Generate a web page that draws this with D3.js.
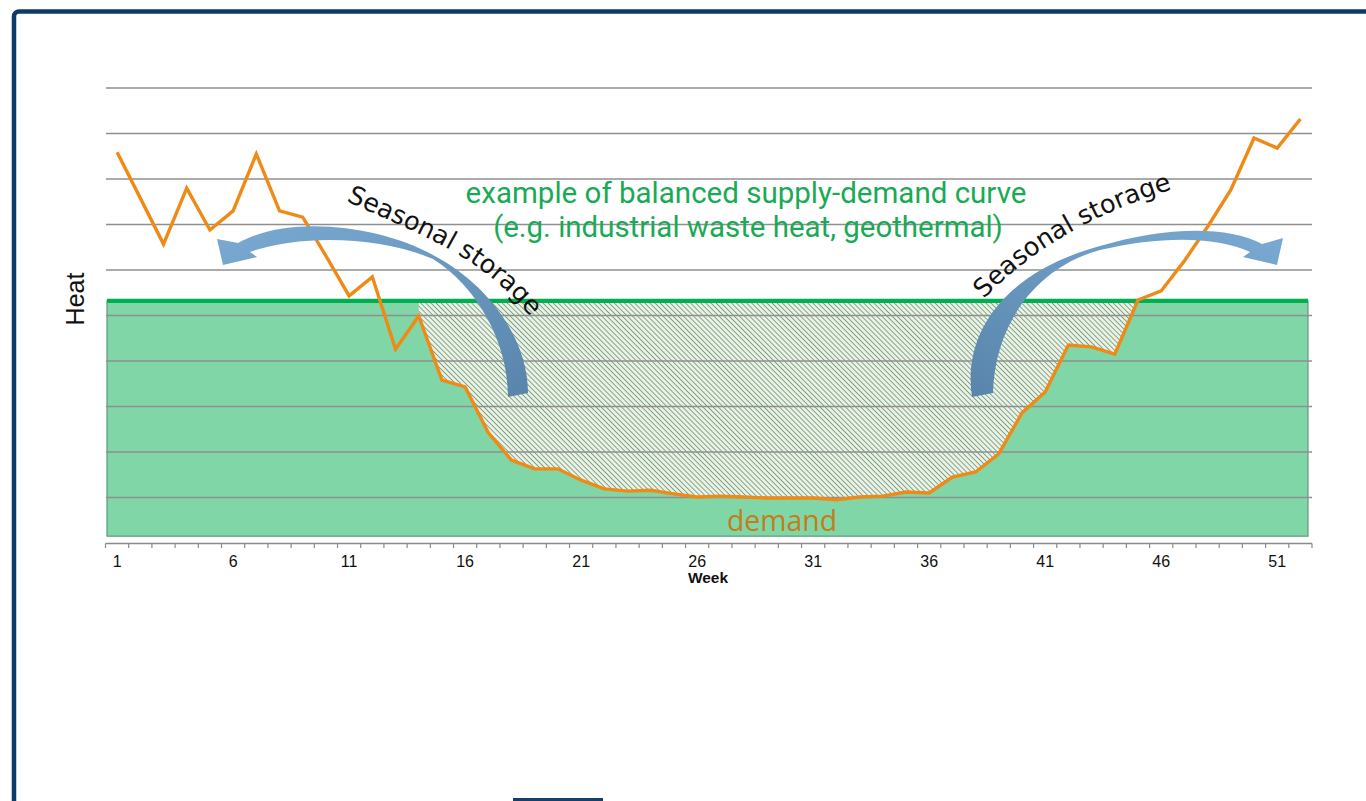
<!DOCTYPE html>
<html>
<head>
<meta charset="utf-8">
<script src="https://cdn.jsdelivr.net/npm/d3@7/dist/d3.min.js"></script>
<style>
  html, body { margin: 0; padding: 0; background: #ffffff; }
  svg { display: block; }
</style>
</head>
<body>
<svg id="chart" width="1366" height="801"></svg>
<script>
// ---------------- DATA ----------------
const weeks = [1,2,3,4,5,6,7,8,9,10,11,12,13,14,15,16,17,18,19,20,21,22,23,24,25,26,
               27,28,29,30,31,32,33,34,35,36,37,38,39,40,41,42,43,44,45,46,47,48,49,50,51,52];
const demand = [8.59,7.58,6.57,7.80,6.88,7.30,8.55,7.30,7.16,6.31,5.43,5.85,4.26,4.99,3.58,3.43,
                2.42,1.82,1.63,1.63,1.38,1.19,1.14,1.16,1.08,1.01,1.03,1.01,0.99,0.99,0.99,0.95,
                1.01,1.03,1.12,1.10,1.45,1.56,1.96,2.86,3.32,4.35,4.31,4.15,5.34,5.54,6.20,6.95,
                7.76,8.90,8.68,9.32];
const supplyLevel = 5.32;        // balanced supply level
const supplyBase = 0.15;         // bottom of supply block
const gridValues = [1,2,3,4,5,6,7,8,9,10];
const tickLabels = [1,6,11,16,21,26,31,36,41,46,51];
const storageWeeks = [14,45];    // hatched storage deficit span
const yDomain = [0,10];

// ---------------- SETUP ----------------
const svg = d3.select("#chart");
const x = d3.scaleBand().domain(weeks).range([105.5, 1312]).paddingInner(0).paddingOuter(0);
const bw = x.bandwidth();
const cx = w => x(w) + bw / 2;
const y = d3.scaleLinear().domain(yDomain).range([543, 88]);
const [x0, x1] = x.range();

const defs = svg.append("defs");
const pat = defs.append("pattern")
  .attr("id", "hatch").attr("patternUnits", "userSpaceOnUse")
  .attr("width", 3.6).attr("height", 3.6)
  .attr("patternTransform", "rotate(-45)");
pat.append("rect").attr("width", 3.6).attr("height", 3.6).attr("fill", "#e8f3e6");
pat.append("line").attr("x1", 0).attr("y1", 0).attr("x2", 0).attr("y2", 3.6)
  .attr("stroke", "#7f9a81").attr("stroke-width", 1.8);

const gL = defs.append("linearGradient").attr("id", "arrowL")
  .attr("x1", "0").attr("y1", "0").attr("x2", "1").attr("y2", "1");
gL.append("stop").attr("offset", "0").attr("stop-color", "#7aaad3");
gL.append("stop").attr("offset", "1").attr("stop-color", "#5985ab");
const gR = defs.append("linearGradient").attr("id", "arrowR")
  .attr("x1", "1").attr("y1", "0").attr("x2", "0").attr("y2", "1");
gR.append("stop").attr("offset", "0").attr("stop-color", "#7aaad3");
gR.append("stop").attr("offset", "1").attr("stop-color", "#5985ab");

// frame
svg.append("rect").attr("x", 14).attr("y", 11.5).attr("width", 1420).attr("height", 900)
  .attr("rx", 5).attr("fill", "none").attr("stroke", "#0d3a6c").attr("stroke-width", 4.5);
svg.append("rect").attr("x", 513).attr("y", 798).attr("width", 90).attr("height", 3).attr("fill", "#173f6b");

// supply block
svg.append("rect")
  .attr("x", x0 + 1.5).attr("y", y(supplyLevel))
  .attr("width", (x1 - x0) - 5.5).attr("height", y(supplyBase) - y(supplyLevel))
  .attr("fill", "#80d6a6").attr("stroke", "#5f9a7a").attr("stroke-width", 1.2);

// hatch (storage) area
const storageData = weeks.filter(w => w >= storageWeeks[0] && w <= storageWeeks[1]);
const area = d3.area()
  .x(w => cx(w))
  .y0(y(supplyLevel))
  .y1(w => y(Math.min(demand[w - 1], supplyLevel)));
svg.append("path").datum(storageData).attr("d", area).attr("fill", "url(#hatch)");

// gridlines
svg.append("g").selectAll("line").data(gridValues).join("line")
  .attr("x1", x0 + 0.5).attr("x2", x1)
  .attr("y1", d => y(d)).attr("y2", d => y(d))
  .attr("stroke", "#8f8f8f").attr("stroke-width", 1.6);

// supply top line
svg.append("line")
  .attr("x1", x0 + 1.5).attr("x2", x1 - 4)
  .attr("y1", y(supplyLevel)).attr("y2", y(supplyLevel))
  .attr("stroke", "#00b050").attr("stroke-width", 4.2);

// x axis
const axisG = svg.append("g");
axisG.append("line").attr("x1", x0).attr("x2", x1).attr("y1", y(0) + 0.5).attr("y2", y(0) + 0.5)
  .attr("stroke", "#8a8a8a").attr("stroke-width", 1.3);
const tickPos = weeks.map(w => x(w)).concat([x1]);
axisG.selectAll("line.tk").data(tickPos).join("line").attr("class", "tk")
  .attr("x1", d => d).attr("x2", d => d).attr("y1", y(0) + 0.5).attr("y2", y(0) + 5)
  .attr("stroke", "#8a8a8a").attr("stroke-width", 1.2);
axisG.selectAll("text").data(tickLabels).join("text")
  .attr("x", d => cx(d)).attr("y", y(0) + 24)
  .attr("text-anchor", "middle")
  .attr("font-family", "Liberation Sans, Arial, sans-serif").attr("font-size", 16)
  .attr("fill", "#111").text(d => d);

svg.append("text").attr("x", 708).attr("y", 582.5).attr("text-anchor", "middle")
  .attr("font-family", "Liberation Sans, Arial, sans-serif").attr("font-size", 15.5)
  .attr("font-weight", "bold").attr("fill", "#111").text("Week");

svg.append("text").attr("transform", "translate(84,299) rotate(-90)")
  .attr("text-anchor", "middle")
  .attr("font-family", "Liberation Sans, Arial, sans-serif").attr("font-size", 25)
  .attr("fill", "#111").text("Heat");

// demand line
const line = d3.line().x(w => cx(w)).y(w => y(demand[w - 1]));
svg.append("path").datum(weeks).attr("d", line)
  .attr("fill", "none").attr("stroke", "#ef8a17").attr("stroke-width", 3.4)
  .attr("stroke-linejoin", "miter");

// curved arrows
svg.append("path")
  .attr("d", "M528,393 C528,340 490,285 433,255 C380,226 290,214 238,243 L217,239 L223,265 L257,257 L250,252 C300,234 380,236 433,259 C475,285 508,340 508,397 Z")
  .attr("fill", "url(#arrowL)");
svg.append("path")
  .attr("d", "M972,397 C962,332 1005,272 1100,246 C1160,228 1225,224 1262,244 L1283,238 L1277,265 L1243,257 L1250,252 C1215,236 1160,236 1100,250 C1040,266 995,320 993,393 Z")
  .attr("fill", "url(#arrowR)");

// curved labels
defs.append("path").attr("id", "tpL").attr("d", "M346,201 C428,238 500,262 550,345");
defs.append("path").attr("id", "tpR").attr("d", "M984,299 C1030,250 1105,203 1215,178");
svg.append("text").attr("font-family", "DejaVu Sans, Verdana, sans-serif").attr("font-size", 25.5)
  .attr("fill", "#111")
  .append("textPath").attr("href", "#tpL").text("Seasonal storage");
svg.append("text").attr("font-family", "DejaVu Sans, Verdana, sans-serif").attr("font-size", 25.5)
  .attr("fill", "#111")
  .append("textPath").attr("href", "#tpR").text("Seasonal storage");

// green annotation
function fitText(t, target) {
  const w = t.node().getComputedTextLength();
  const fs = parseFloat(t.attr("font-size"));
  t.attr("font-size", fs * target / w);
}
const t1 = svg.append("text").attr("x", 746).attr("y", 203).attr("text-anchor", "middle")
  .attr("font-family", "Roboto, sans-serif").attr("font-size", 24).attr("fill", "#1aaa55")
  .text("example of balanced supply-demand curve");
fitText(t1, 561);
const t2 = svg.append("text").attr("x", 748).attr("y", 237).attr("text-anchor", "middle")
  .attr("font-family", "Roboto, sans-serif").attr("font-size", 24).attr("fill", "#1aaa55")
  .text("(e.g. industrial waste heat, geothermal)");
fitText(t2, 510);

const t3 = svg.append("text").attr("x", 782).attr("y", 531).attr("text-anchor", "middle")
  .attr("font-family", "Open Sans, sans-serif").attr("font-size", 22).attr("fill", "#c27d1c")
  .text("demand");
fitText(t3, 110);
</script>
</body>
</html>
